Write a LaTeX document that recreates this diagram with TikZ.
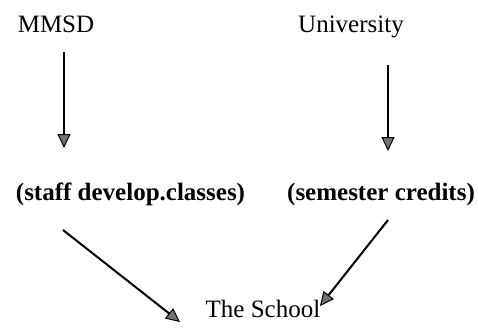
\documentclass[tikz,border=0pt]{standalone}
\usepackage{fontspec}
\setmainfont{Liberation Serif}
\usetikzlibrary{arrows.meta}
\begin{document}
\begin{tikzpicture}[x=1pt,y=-1pt,
  lbl/.style={anchor=base,inner sep=0pt,font=\fontsize{25}{30}\selectfont},
  blbl/.style={lbl,font=\fontsize{25}{30}\selectfont\bfseries},
  arr/.style={line width=2pt,-{Triangle[length=14pt,width=13pt,fill=black!55,line width=1pt]}}]
\useasboundingbox (0,0) rectangle (478,332);
\node[lbl] (mmsd) at (56,32) {MMSD};
\node[lbl] (univ) at (351,32) {University};
\node[blbl] (staff) at (130.5,200) {(staff develop.classes)};
\node[blbl] (sem) at (381,200) {(semester credits)};
\node[lbl] (school) at (263,317) {The School};
\coordinate (a1s) at (64,52);
\coordinate (a1e) at (64,148);
\coordinate (a2s) at (388,65);
\coordinate (a2e) at (388,151);
\coordinate (a3s) at (63,230);
\coordinate (a3e) at (180,322);
\coordinate (a4s) at (388,220);
\coordinate (a4e) at (320,306);
\draw[arr] (a1s) -- (a1e);
\draw[arr] (a2s) -- (a2e);
\draw[arr] (a3s) -- (a3e);
\draw[arr] (a4s) -- (a4e);
\end{tikzpicture}
\end{document}
